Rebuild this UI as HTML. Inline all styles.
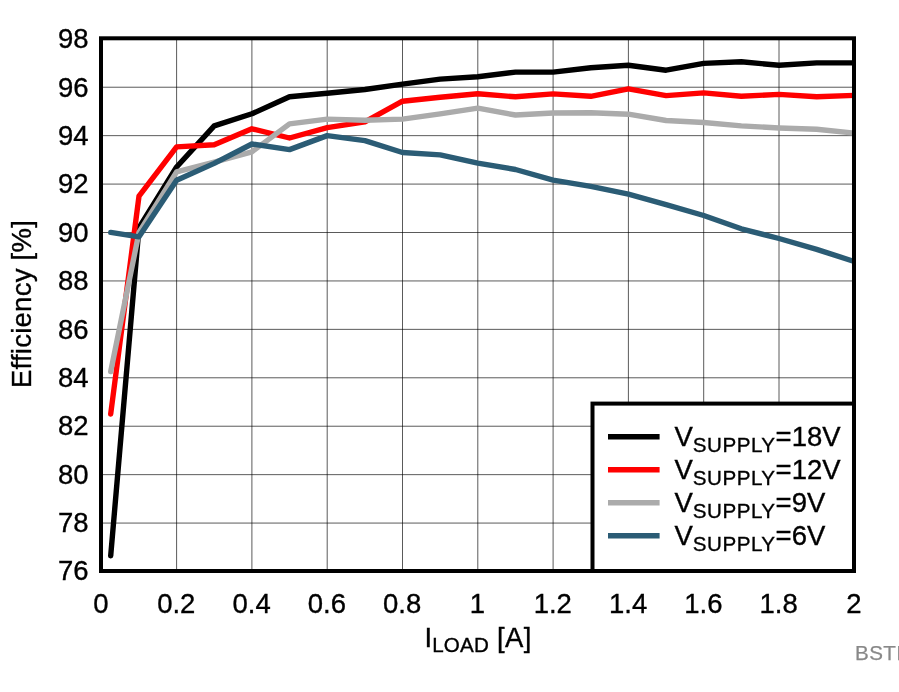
<!DOCTYPE html>
<html><head><meta charset="utf-8"><title>Efficiency</title>
<style>
html,body{margin:0;padding:0;background:#fff;overflow:hidden}
svg{display:block}
text{font-family:"Liberation Sans",Arial,sans-serif;fill:#000;stroke:#000;stroke-width:0.35px}
.t{font-size:27.5px}
.s{font-size:20.6px}
</style></head><body>
<svg width="899" height="692" viewBox="0 0 899 692">
<rect x="0" y="0" width="899" height="692" fill="#fff"/>
<g stroke="#000" stroke-width="0.65" fill="none">
<line x1="176.60" y1="38.3" x2="176.60" y2="571.0"/>
<line x1="251.90" y1="38.3" x2="251.90" y2="571.0"/>
<line x1="327.20" y1="38.3" x2="327.20" y2="571.0"/>
<line x1="402.50" y1="38.3" x2="402.50" y2="571.0"/>
<line x1="477.80" y1="38.3" x2="477.80" y2="571.0"/>
<line x1="553.10" y1="38.3" x2="553.10" y2="571.0"/>
<line x1="628.40" y1="38.3" x2="628.40" y2="571.0"/>
<line x1="703.70" y1="38.3" x2="703.70" y2="571.0"/>
<line x1="779.00" y1="38.3" x2="779.00" y2="571.0"/>
<line x1="101.0" y1="87.23" x2="854.0" y2="87.23"/>
<line x1="101.0" y1="135.65" x2="854.0" y2="135.65"/>
<line x1="101.0" y1="184.08" x2="854.0" y2="184.08"/>
<line x1="101.0" y1="232.51" x2="854.0" y2="232.51"/>
<line x1="101.0" y1="280.94" x2="854.0" y2="280.94"/>
<line x1="101.0" y1="329.36" x2="854.0" y2="329.36"/>
<line x1="101.0" y1="377.79" x2="854.0" y2="377.79"/>
<line x1="101.0" y1="426.22" x2="854.0" y2="426.22"/>
<line x1="101.0" y1="474.65" x2="854.0" y2="474.65"/>
<line x1="101.0" y1="523.07" x2="854.0" y2="523.07"/>
</g>
<clipPath id="c"><rect x="101.0" y="38.3" width="753.0" height="532.7"/></clipPath>
<g fill="none" stroke-width="5.4" stroke-linecap="round" stroke-linejoin="round" clip-path="url(#c)" transform="translate(0.3,0.4)">
<polyline stroke="#000000" points="110.4,555.3 138.7,227.2 176.3,166.6 213.9,125.5 251.6,113.4 289.2,96.4 326.9,92.8 364.6,89.1 402.2,83.8 439.9,78.7 477.5,76.3 515.2,71.7 552.8,71.7 590.5,67.4 628.1,64.9 665.8,69.8 703.4,63.0 741.0,61.3 778.7,64.9 816.4,62.5 854.0,62.5"/>
<polyline stroke="#ff0000" points="110.4,413.6 138.7,195.7 176.3,146.5 213.9,144.4 251.6,128.4 289.2,137.6 326.9,127.2 364.6,121.4 402.2,100.8 439.9,96.9 477.5,93.3 515.2,96.4 552.8,93.5 590.5,95.9 628.1,88.4 665.8,95.2 703.4,92.5 741.0,95.9 778.7,94.0 816.4,96.4 854.0,95.0"/>
<polyline stroke="#ababab" points="110.4,371.2 138.7,232.0 176.3,171.5 213.9,161.8 251.6,151.4 289.2,123.5 326.9,118.7 364.6,119.9 402.2,118.7 439.9,113.4 477.5,107.8 515.2,114.6 552.8,112.6 590.5,112.4 628.1,113.8 665.8,120.1 703.4,122.1 741.0,125.5 778.7,127.6 816.4,128.9 854.0,132.7"/>
<polyline stroke="#2b5c75" points="110.4,232.0 138.7,236.4 176.3,179.9 213.9,163.0 251.6,143.6 289.2,149.2 326.9,135.2 364.6,140.2 402.2,152.1 439.9,154.5 477.5,162.8 515.2,169.1 552.8,179.7 590.5,186.0 628.1,193.8 665.8,204.2 703.4,215.1 741.0,228.4 778.7,238.1 816.4,249.0 854.0,261.1"/>
</g>
<rect x="592.5" y="403.6" width="261.5" height="167.39999999999998" fill="#fff" stroke="#000" stroke-width="4"/>
<line x1="608" y1="436.7" x2="659.6" y2="436.7" stroke="#000000" stroke-width="5.4"/>
<text class="t" x="674.5" y="445.6">V<tspan class="s" dy="6" letter-spacing="0.5">SUPPLY</tspan><tspan dy="-6">=18V</tspan></text>
<line x1="608" y1="469.7" x2="659.6" y2="469.7" stroke="#ff0000" stroke-width="5.4"/>
<text class="t" x="674.5" y="478.6">V<tspan class="s" dy="6" letter-spacing="0.5">SUPPLY</tspan><tspan dy="-6">=12V</tspan></text>
<line x1="608" y1="502.7" x2="659.6" y2="502.7" stroke="#ababab" stroke-width="5.4"/>
<text class="t" x="674.5" y="511.6">V<tspan class="s" dy="6" letter-spacing="0.5">SUPPLY</tspan><tspan dy="-6">=9V</tspan></text>
<line x1="608" y1="535.7" x2="659.6" y2="535.7" stroke="#2b5c75" stroke-width="5.4"/>
<text class="t" x="674.5" y="544.6">V<tspan class="s" dy="6" letter-spacing="0.5">SUPPLY</tspan><tspan dy="-6">=6V</tspan></text>
<rect x="101.0" y="38.3" width="753.0" height="532.7" fill="none" stroke="#000" stroke-width="4"/>
<text class="t" x="88.5" y="48.1" text-anchor="end">98</text>
<text class="t" x="88.5" y="96.5" text-anchor="end">96</text>
<text class="t" x="88.5" y="144.9" text-anchor="end">94</text>
<text class="t" x="88.5" y="193.3" text-anchor="end">92</text>
<text class="t" x="88.5" y="241.7" text-anchor="end">90</text>
<text class="t" x="88.5" y="290.1" text-anchor="end">88</text>
<text class="t" x="88.5" y="338.5" text-anchor="end">86</text>
<text class="t" x="88.5" y="386.8" text-anchor="end">84</text>
<text class="t" x="88.5" y="435.2" text-anchor="end">82</text>
<text class="t" x="88.5" y="483.6" text-anchor="end">80</text>
<text class="t" x="88.5" y="532.0" text-anchor="end">78</text>
<text class="t" x="88.5" y="580.4" text-anchor="end">76</text>
<text class="t" x="101.0" y="613.3" text-anchor="middle">0</text>
<text class="t" x="176.3" y="613.3" text-anchor="middle">0.2</text>
<text class="t" x="251.6" y="613.3" text-anchor="middle">0.4</text>
<text class="t" x="326.9" y="613.3" text-anchor="middle">0.6</text>
<text class="t" x="402.2" y="613.3" text-anchor="middle">0.8</text>
<text class="t" x="477.5" y="613.3" text-anchor="middle">1</text>
<text class="t" x="552.8" y="613.3" text-anchor="middle">1.2</text>
<text class="t" x="628.1" y="613.3" text-anchor="middle">1.4</text>
<text class="t" x="703.4" y="613.3" text-anchor="middle">1.6</text>
<text class="t" x="778.7" y="613.3" text-anchor="middle">1.8</text>
<text class="t" x="854.0" y="613.3" text-anchor="middle">2</text>
<text class="t" transform="translate(31,304) rotate(-90)" text-anchor="middle" letter-spacing="0.25">Efficiency [%]</text>
<text class="t" x="424.6" y="647">I<tspan class="s" dy="4.7" letter-spacing="0.15">LOAD</tspan><tspan dy="-4.7" letter-spacing="0.4"> [A]</tspan></text>
<text x="855" y="660.4" letter-spacing="0.4" style="font-size:20.6px;fill:#888888;stroke:#888888;stroke-width:0.25px">BSTI</text>
</svg></body></html>
